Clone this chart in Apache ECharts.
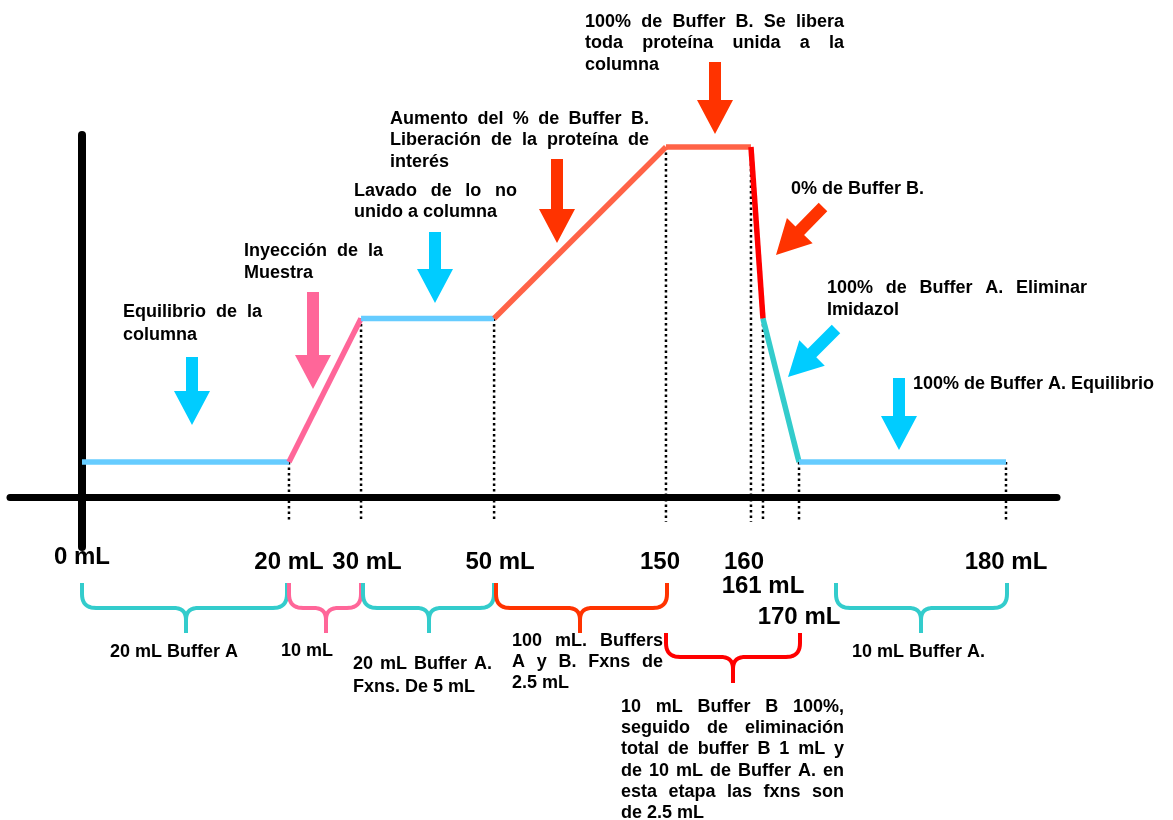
<!DOCTYPE html>
<html>
<head>
<meta charset="utf-8">
<script src="https://cdn.jsdelivr.net/npm/echarts@6/dist/echarts.min.js"></script>
<style>
html,body{margin:0;padding:0;background:#fff;}
#chart{width:1173px;height:820px;}
</style>
</head>
<body>
<div id="chart"></div>
<script>
// ---------------- DATA ----------------
// Elution volumes (mL) at each stage boundary
const volumes = [0, 20, 30, 50, 150, 160, 161, 170, 180];
// Schematic signal level (% of max) at each boundary
const signalLevels = [10, 10, 51, 51, 100, 100, 51, 10, 10];
// Tick labels shown under the axis
const tickLabels = ['0 mL', '20 mL', '30 mL', '50 mL', '150', '160', '161 mL', '170 mL', '180 mL'];

// ---------------- LAYOUT / STYLE ----------------
// The axis is schematic (not to scale): display position of each volume stop (0-100)
const axisPositions = [0, 22.4, 30.2, 44.6, 63.2, 72.4, 73.7, 77.6, 100];
const segmentColors = ['#66CCFF', '#FF6699', '#66CCFF', '#FF6347', '#FF6347', '#FF0000', '#33CCCC', '#66CCFF'];
const labelStyleKeys = ['t0', 't', 'tR', 'tR', 'tL', 'tL2', 't161', 't170', 't'];
const dropDepth = -7.1;
const FONT = '"Liberation Sans", Arial, Helvetica, sans-serif';

function toPos(v) {
  for (let i = 0; i < volumes.length - 1; i++) {
    if (v >= volumes[i] && v <= volumes[i + 1]) {
      const t = (v - volumes[i]) / (volumes[i + 1] - volumes[i]);
      return axisPositions[i] + t * (axisPositions[i + 1] - axisPositions[i]);
    }
  }
  return axisPositions[axisPositions.length - 1];
}

const series = [];
// dotted drop lines
for (let i = 1; i < volumes.length; i++) {
  series.push({
    type: 'line', z: 1, symbol: 'none', silent: true,
    lineStyle: { color: '#000', width: 2.5, type: [2.5, 3] },
    data: [[toPos(volumes[i]), signalLevels[i]], [toPos(volumes[i]), dropDepth]]
  });
}
// coloured profile segments
for (let i = 0; i < volumes.length - 1; i++) {
  series.push({
    type: 'line', z: 3, symbol: 'none', silent: true,
    lineStyle: { color: segmentColors[i], width: 5.5 },
    data: [[toPos(volumes[i]), signalLevels[i]], [toPos(volumes[i + 1]), signalLevels[i + 1]]]
  });
}

// ---------------- ANNOTATIONS ----------------
const FS = 18;
const measureCtx = document.createElement('canvas').getContext('2d');
measureCtx.font = 'bold ' + FS + 'px "Liberation Sans"';
const graphics = [];

function addText(str, x, y) {
  graphics.push({
    type: 'text', x: x, y: y, silent: true, z: 10,
    style: { text: str, fill: '#000', fontSize: FS, fontWeight: 'bold', fontFamily: FONT, align: 'left', verticalAlign: 'middle' }
  });
}
function textBlock(lines, x, capTop, lh, width) {
  lines.forEach((line, i) => {
    const y = capTop + i * lh + 0.37 * FS;
    const justify = width && i < lines.length - 1 && line.indexOf(' ') >= 0;
    if (!justify) { addText(line, x, y); return; }
    const words = line.split(' ');
    const ws = words.map(w => measureCtx.measureText(w).width);
    const sum = ws.reduce((a, b) => a + b, 0);
    const gap = (width - sum) / (words.length - 1);
    let cx = x;
    words.forEach((w, j) => { addText(w, cx, y); cx += ws[j] + gap; });
  });
}

textBlock(['Equilibrio de la', 'columna'], 123, 305, 23, 139);
textBlock(['Inyección de la', 'Muestra'], 244, 244, 22, 139);
textBlock(['Lavado de lo no', 'unido a columna'], 354, 184, 21.5, 163);
textBlock(['Aumento del % de Buffer B.', 'Liberación de la proteína de', 'interés'], 390, 112, 21.5, 259);
textBlock(['100% de Buffer B. Se libera', 'toda proteína unida a la', 'columna'], 585, 15, 21.5, 259);
textBlock(['0% de Buffer B.'], 791, 182, 22, 0);
textBlock(['100% de Buffer A. Eliminar', 'Imidazol'], 827, 281, 22, 260);
textBlock(['100% de Buffer A. Equilibrio'], 913, 377, 22, 0);
textBlock(['20 mL Buffer A'], 110, 645, 22, 0);
textBlock(['10 mL'], 281, 644, 22, 0);
textBlock(['20 mL Buffer A.', 'Fxns. De 5 mL'], 353, 657, 23, 139);
textBlock(['100 mL. Buffers', 'A y B. Fxns de', '2.5 mL'], 512, 634, 21, 151);
textBlock(['10 mL Buffer B 100%,', 'seguido de eliminación', 'total de buffer B 1 mL y', 'de 10 mL de Buffer A. en', 'esta etapa las fxns son', 'de 2.5 mL'], 621, 700, 21.3, 223);
textBlock(['10 mL Buffer A.'], 852, 645, 22, 0);

// arrows
function arrow(tx, ty, px, py, color) {
  const dx = px - tx, dy = py - ty;
  const len = Math.sqrt(dx * dx + dy * dy);
  const ux = dx / len, uy = dy / len;
  const nx = -uy, ny = ux;
  const sw = 6, hw = 18, hl = 34;
  const bx = px - ux * hl, by = py - uy * hl;
  const pts = [
    [tx + nx * sw, ty + ny * sw], [bx + nx * sw, by + ny * sw], [bx + nx * hw, by + ny * hw],
    [px, py],
    [bx - nx * hw, by - ny * hw], [bx - nx * sw, by - ny * sw], [tx - nx * sw, ty - ny * sw]
  ];
  graphics.push({ type: 'polygon', silent: true, z: 9, shape: { points: pts }, style: { fill: color } });
}
arrow(192, 357, 192, 425, '#00CCFF');
arrow(313, 292, 313, 389, '#FF6699');
arrow(435, 232, 435, 303, '#00CCFF');
arrow(557, 159, 557, 243, '#FF3300');
arrow(715, 62, 715, 134, '#FF3300');
arrow(899, 378, 899, 450, '#00CCFF');
arrow(823, 207, 776, 255, '#FF3300');
arrow(836, 329, 788, 377, '#00CCFF');

// braces (sampled quadratic curves -> polylines)
function quad(p0, c, p1, out) {
  for (let k = 1; k <= 10; k++) {
    const t = k / 10, a = (1 - t) * (1 - t), b = 2 * (1 - t) * t, d = t * t;
    out.push([a * p0[0] + b * c[0] + d * p1[0], a * p0[1] + b * c[1] + d * p1[1]]);
  }
}
function brace(x1, x2, xm, top, flat, tip, color) {
  const r = 14, rm = 12;
  const left = [[x1, top], [x1, flat - r]];
  quad([x1, flat - r], [x1, flat], [x1 + r, flat], left);
  left.push([xm - rm, flat]);
  quad([xm - rm, flat], [xm, flat], [xm, flat + rm], left);
  left.push([xm, tip]);
  const right = [[x2, top], [x2, flat - r]];
  quad([x2, flat - r], [x2, flat], [x2 - r, flat], right);
  right.push([xm + rm, flat]);
  quad([xm + rm, flat], [xm, flat], [xm, flat + rm], right);
  right.push([xm, tip]);
  [left, right].forEach(pts => graphics.push({
    type: 'polyline', silent: true, z: 8, shape: { points: pts },
    style: { stroke: color, lineWidth: 4, fill: null, lineJoin: 'round' }
  }));
}
brace(82, 287, 186, 583, 608, 633, '#33CCCC');
brace(289, 361, 326, 583, 608, 633, '#FF6699');
brace(363, 494, 429, 583, 608, 633, '#33CCCC');
brace(496, 667, 580, 583, 608, 633, '#FF3300');
brace(666, 800, 733, 633, 657, 683, '#FF0000');
brace(836, 1007, 921, 583, 608, 633, '#33CCCC');

// ---------------- CHART ----------------
const chart = echarts.init(document.getElementById('chart'), null, { renderer: 'canvas' });
const tickPositions = volumes.map(toPos);
const lblBase = { fontSize: 24, fontWeight: 'bold', fontFamily: FONT, color: '#000' };
chart.setOption({
  animation: false,
  backgroundColor: '#fff',
  grid: { left: 10, right: 116, top: 135, bottom: 273, containLabel: false },
  xAxis: {
    type: 'value', min: -7.792, max: 105.52,
    axisLine: { onZero: true, lineStyle: { color: '#000', width: 7 } },
    axisTick: { show: false },
    splitLine: { show: false },
    axisLabel: {
      customValues: tickPositions,
      margin: -2,
      formatter: function (v) {
        let best = 0;
        tickPositions.forEach((p, i) => { if (Math.abs(p - v) < Math.abs(tickPositions[best] - v)) best = i; });
        return '{' + labelStyleKeys[best] + '|' + tickLabels[best] + '}';
      },
      rich: {
        t0: Object.assign({}, lblBase, { padding: [0, 0, 0, 0] }),
        t: Object.assign({}, lblBase, { padding: [5, 0, 0, 0] }),
        tR: Object.assign({}, lblBase, { padding: [5, 0, 0, 12] }),
        tL: Object.assign({}, lblBase, { padding: [5, 12, 0, 0] }),
        tL2: Object.assign({}, lblBase, { padding: [5, 14, 0, 0] }),
        t161: Object.assign({}, lblBase, { padding: [29, 0, 0, 0] }),
        t170: Object.assign({}, lblBase, { padding: [60, 0, 0, 0] })
      }
    }
  },
  yAxis: {
    type: 'value', min: -14.29, max: 103.43,
    axisLine: { show: true, onZero: true, lineStyle: { color: '#000', width: 8 } },
    axisTick: { show: false },
    splitLine: { show: false },
    axisLabel: { show: false }
  },
  series: series,
  graphic: graphics
});
</script>
</body>
</html>
